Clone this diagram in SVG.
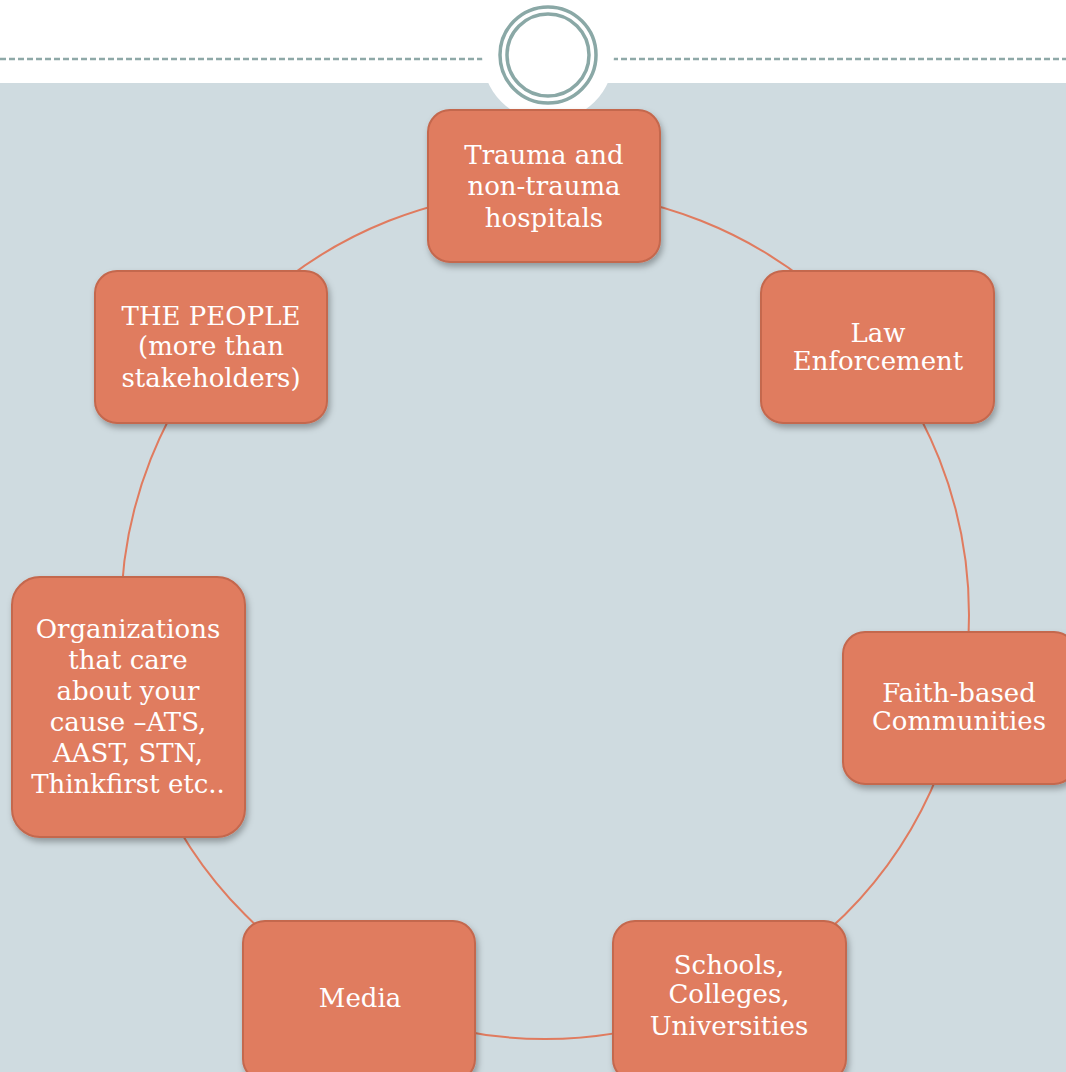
<svg xmlns="http://www.w3.org/2000/svg" width="1066" height="1072" viewBox="0 0 1066 1072">
  <defs>
    <filter id="sh" x="-10%" y="-10%" width="125%" height="130%">
      <feDropShadow dx="2" dy="4" stdDeviation="3" flood-color="#000" flood-opacity="0.3"/>
    </filter>
    <style>
      .box { fill: #E07B5F; stroke: #C4674D; stroke-width: 2; filter: url(#sh); }
      .lbl { font-family: "DejaVu Serif", "Liberation Serif", serif; font-size: 26px; fill: #FFFFFF; text-anchor: middle; }
      .conn { fill: none; stroke: #E07B5F; stroke-width: 2; }
      .dash { stroke: #8FA9A8; stroke-width: 2.5; stroke-dasharray: 6 3; }
      .ring { fill: none; stroke: #8AA8A6; stroke-width: 3.5; }
    </style>
  </defs>
  <rect x="0" y="0" width="1066" height="1072" fill="#FFFFFF"/>
  <rect x="0" y="83" width="1066" height="989" fill="#CFDBE0"/>
  <line class="dash" x1="0" y1="59" x2="483" y2="59"/>
  <line class="dash" x1="612" y1="59" x2="1066" y2="59"/>
  <circle cx="548" cy="55" r="66" fill="#FFFFFF"/>
  <circle class="ring" cx="548" cy="55" r="48"/>
  <circle class="ring" cx="548" cy="55" r="41"/>

  <g id="connectors">
    <circle class="conn" cx="545" cy="615" r="424"/>
  </g>

  <g id="node-trauma">
    <rect class="box" x="428" y="110" width="232" height="152" rx="22"/>
    <text class="lbl" x="544" y="164">Trauma and</text>
    <text class="lbl" x="544" y="195">non-trauma</text>
    <text class="lbl" x="544" y="227">hospitals</text>
  </g>
  <g id="node-law">
    <rect class="box" x="761" y="271" width="233" height="152" rx="22"/>
    <text class="lbl" x="878" y="342">Law</text>
    <text class="lbl" x="878" y="370">Enforcement</text>
  </g>
  <g id="node-faith">
    <rect class="box" x="843" y="632" width="233" height="152" rx="22"/>
    <text class="lbl" x="959" y="702">Faith-based</text>
    <text class="lbl" x="959" y="730">Communities</text>
  </g>
  <g id="node-schools">
    <rect class="box" x="613" y="921" width="233" height="160" rx="22"/>
    <text class="lbl" x="729" y="974">Schools,</text>
    <text class="lbl" x="729" y="1003">Colleges,</text>
    <text class="lbl" x="729" y="1035">Universities</text>
  </g>
  <g id="node-media">
    <rect class="box" x="243" y="921" width="232" height="160" rx="22"/>
    <text class="lbl" x="360" y="1007">Media</text>
  </g>
  <g id="node-orgs">
    <rect class="box" x="12" y="577" width="233" height="260" rx="28"/>
    <text class="lbl" x="128" y="638">Organizations</text>
    <text class="lbl" x="128" y="669">that care</text>
    <text class="lbl" x="128" y="700">about your</text>
    <text class="lbl" x="128" y="731">cause –ATS,</text>
    <text class="lbl" x="128" y="762">AAST, STN,</text>
    <text class="lbl" x="128" y="793">Thinkfirst etc..</text>
  </g>
  <g id="node-people">
    <rect class="box" x="95" y="271" width="232" height="152" rx="22"/>
    <text class="lbl" x="211" y="325">THE PEOPLE</text>
    <text class="lbl" x="211" y="355">(more than</text>
    <text class="lbl" x="211" y="387">stakeholders)</text>
  </g>
</svg>
